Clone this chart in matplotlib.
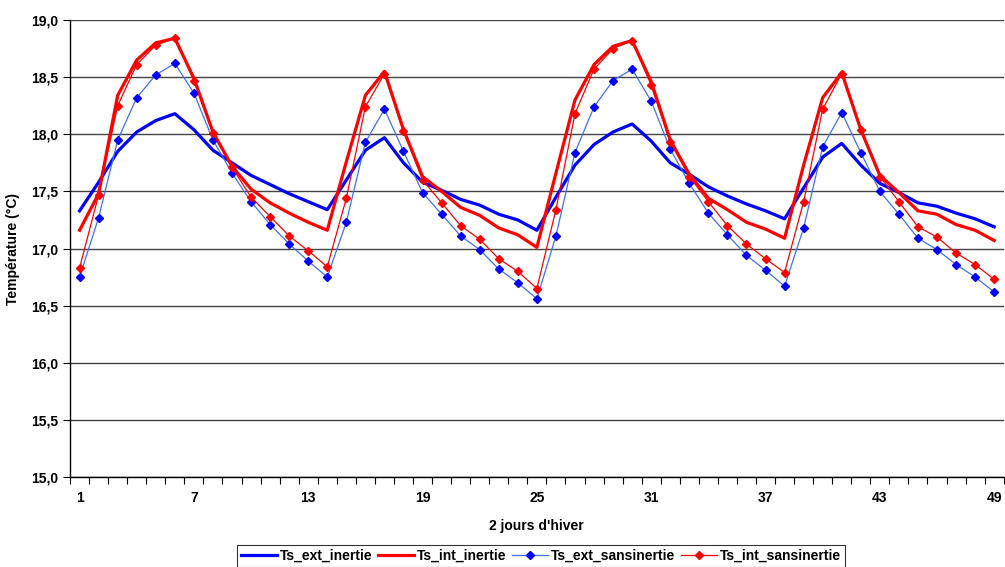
import numpy as np
import matplotlib
matplotlib.use("Agg")
import matplotlib.pyplot as plt
from matplotlib.ticker import FixedLocator, FuncFormatter

plt.rcParams['font.family'] = ['Liberation Sans', 'DejaVu Sans']

# 2 jours d'hiver, 49 pas
steps = np.arange(1, 50)

ts_ext_inertie = [17.33, 17.58, 17.85, 18.02, 18.12, 18.18, 18.04, 17.86, 17.75, 17.64,
                  17.56, 17.48, 17.41, 17.34, 17.60, 17.86, 17.97, 17.75, 17.58, 17.51,
                  17.43, 17.38, 17.30, 17.25, 17.16, 17.45, 17.73, 17.91, 18.02, 18.09,
                  17.94, 17.75, 17.65, 17.54, 17.46, 17.39, 17.33, 17.26, 17.53, 17.80,
                  17.92, 17.73, 17.57, 17.49, 17.40, 17.37, 17.31, 17.26, 17.19]

ts_int_inertie = [17.16, 17.48, 18.34, 18.65, 18.80, 18.84, 18.49, 18.02, 17.72, 17.52,
                  17.40, 17.31, 17.23, 17.16, 17.76, 18.34, 18.55, 18.04, 17.63, 17.50,
                  17.36, 17.29, 17.18, 17.12, 17.01, 17.66, 18.30, 18.61, 18.77, 18.82,
                  18.46, 17.95, 17.65, 17.44, 17.34, 17.23, 17.17, 17.09, 17.73, 18.32,
                  18.54, 18.04, 17.64, 17.49, 17.33, 17.30, 17.21, 17.16, 17.07]

ts_ext_sansinertie = [16.75, 17.27, 17.95, 18.32, 18.52, 18.62, 18.36, 17.95, 17.66, 17.41,
                      17.21, 17.04, 16.89, 16.75, 17.23, 17.93, 18.22, 17.85, 17.49, 17.30,
                      17.11, 16.99, 16.82, 16.70, 16.56, 17.11, 17.84, 18.24, 18.47, 18.57,
                      18.29, 17.87, 17.57, 17.31, 17.12, 16.94, 16.81, 16.67, 17.18, 17.89,
                      18.19, 17.84, 17.50, 17.30, 17.09, 16.99, 16.86, 16.75, 16.62]

ts_int_sansinertie = [16.83, 17.47, 18.25, 18.61, 18.78, 18.84, 18.47, 18.01, 17.71, 17.45,
                      17.28, 17.11, 16.98, 16.84, 17.44, 18.24, 18.53, 18.03, 17.60, 17.40,
                      17.20, 17.08, 16.91, 16.80, 16.65, 17.34, 18.18, 18.57, 18.75, 18.82,
                      18.43, 17.93, 17.63, 17.41, 17.20, 17.04, 16.91, 16.79, 17.41, 18.22,
                      18.53, 18.04, 17.63, 17.41, 17.19, 17.10, 16.96, 16.86, 16.73]

x_labels = [1, 7, 13, 19, 25, 31, 37, 43, 49]

fig = plt.figure(figsize=(10.05, 5.67), dpi=100)
ax = fig.add_axes([0.0697, 0.1587, 0.929, 0.806])

ax.plot(steps, ts_ext_inertie, color='#0000FF', lw=2.3, label='Ts_ext_inertie', zorder=3)
ax.plot(steps, ts_int_inertie, color='#FF0000', lw=2.3, label='Ts_int_inertie', zorder=3)
ax.plot(steps, ts_ext_sansinertie, color='#3F6FFF', lw=0.9, marker='D', ms=4.5,
        mfc='#0000FF', mec='#0000FF', label='Ts_ext_sansinertie', zorder=4)
ax.plot(steps, ts_int_sansinertie, color='#FF0000', lw=0.9, marker='D', ms=4.5,
        mfc='#FF0000', mec='#FF0000', label='Ts_int_sansinertie', zorder=4)

ax.set_xlim(0.5, 49.5)
ax.set_ylim(15, 19)
ax.set_yticks(np.arange(15, 19.01, 0.5))
ax.yaxis.set_major_formatter(FuncFormatter(lambda v, p: f"{v:.1f}".replace('.', ',')))
ax.yaxis.grid(True, color='#444444', lw=1.0)
ax.set_axisbelow(True)

ax.xaxis.set_major_locator(FixedLocator(x_labels))
ax.xaxis.set_minor_locator(FixedLocator(np.arange(0.5, 50, 1)))
ax.tick_params(axis='x', which='major', length=0, pad=10)
ax.tick_params(axis='x', which='minor', length=5, direction='out', width=0.8)
ax.tick_params(axis='y', length=5, direction='out', width=0.8)
for lab in ax.get_xticklabels() + ax.get_yticklabels():
    lab.set_fontweight('bold')
    lab.set_fontsize(10)

for side in ['top', 'right']:
    ax.spines[side].set_visible(False)
for side in ['left', 'bottom']:
    ax.spines[side].set_color('black')
    ax.spines[side].set_linewidth(1.0)

ax.set_xlabel("2 jours d'hiver", fontsize=10, fontweight='bold', labelpad=10)
ax.set_ylabel("Température (°C)", fontsize=10, fontweight='bold', labelpad=8)

leg = fig.legend(loc='lower center', bbox_to_anchor=(0.538, -0.012), ncol=4, fontsize=10,
                 frameon=True, fancybox=False, edgecolor='black', handlelength=2.6,
                 handletextpad=0.2, columnspacing=0.4, borderpad=0.3)
for t in leg.get_texts():
    t.set_fontweight('bold')
leg.get_frame().set_linewidth(0.8)

fig.savefig('out.png', dpi=100)
